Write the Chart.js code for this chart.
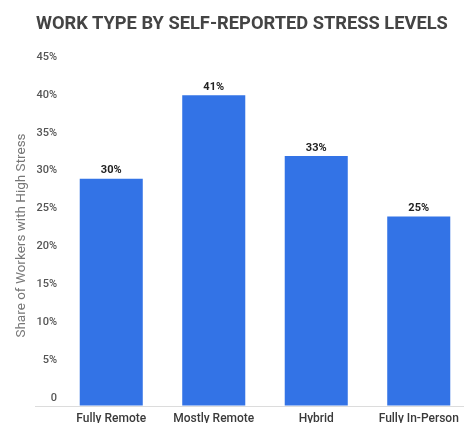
<!DOCTYPE html>
<html>

<head>
    <meta charset="utf-8">
    <title>Work type by stress</title>
    <script src="https://cdn.jsdelivr.net/npm/chart.js@4.4.0/dist/chart.umd.min.js"></script>
    <style>
        body {
            margin: 0;
            overflow: hidden;
            background: #fff;
        }

        #wrap {
            position: relative;
            width: 464px;
            height: 423px;
            overflow: hidden;
        }

        #title {
            position: absolute;
            left: 36px;
            top: 12px;
            font-family: Roboto, sans-serif;
            font-weight: 700;
            font-size: 18.3px;
            line-height: 22px;
            color: #444;
            white-space: nowrap;
            z-index: 2;
        }

        .chart-container {
            position: absolute;
            left: 0;
            top: 0;
            width: 470px;
            height: 423px;
        }
    </style>
</head>

<body>
    <div id="wrap">
        <div id="title">WORK TYPE BY SELF-REPORTED STRESS LEVELS</div>
        <div class="chart-container">
            <canvas id="canvas"></canvas>
        </div>
    </div>
    <script>
        // work types on the x axis
        const workTypes = ['Fully Remote', 'Mostly Remote', 'Hybrid', 'Fully In-Person'];
        // share of workers reporting high stress, in percent
        const highStress = [30, 41, 33, 25];
        // y axis ticks
        const yTicks = [0, 5, 10, 15, 20, 25, 30, 35, 40, 45];

        // draws the "41%" labels over the bars
        const barLabels = {
            id: 'barLabels',
            afterDatasetsDraw(chart) {
                const ctx = chart.ctx;
                const meta = chart.getDatasetMeta(0);
                ctx.save();
                ctx.font = 'bold 11px Roboto, sans-serif';
                ctx.fillStyle = '#222';
                ctx.textAlign = 'center';
                ctx.textBaseline = 'middle';
                meta.data.forEach(function (bar, i) {
                    ctx.fillText(highStress[i] + '%', bar.x, bar.y - 8);
                });
                ctx.restore();
            }
        };

        var chart = new Chart(document.getElementById('canvas'), {
            type: 'bar',
            data: {
                labels: workTypes,
                datasets: [{
                    data: highStress,
                    backgroundColor: '#3373e6',
                    borderWidth: 0,
                    barPercentage: 0.615,
                    categoryPercentage: 1
                }]
            },
            options: {
                responsive: true,
                maintainAspectRatio: false,
                animation: false,
                layout: { padding: { top: 65, right: 0, left: 0, bottom: 0 } },
                plugins: {
                    legend: { display: false },
                    tooltip: { enabled: false }
                },
                scales: {
                    x: {
                        grid: { display: false, drawTicks: false },
                        border: { display: false },
                        ticks: {
                            color: '#3a3a3a',
                            padding: 6,
                            font: { family: 'Roboto', size: 12, weight: 500 }
                        },
                        afterFit: function (scale) { scale.height = 17; }
                    },
                    y: {
                        min: 0,
                        max: 45,
                        afterBuildTicks: function (scale) {
                            scale.ticks = yTicks.map(function (v) { return { value: v }; });
                        },
                        afterFit: function (scale) { scale.width = 60; },
                        grid: {
                            drawOnChartArea: true,
                            drawTicks: true,
                            tickLength: 25,
                            color: function (c) {
                                return c.tick && c.tick.value === 0 ? '#dcdcdc' : 'rgba(0,0,0,0)';
                            }
                        },
                        border: { display: false },
                        ticks: {
                            padding: -22,
                            labelOffset: -8,
                            color: '#555',
                            font: { family: 'Roboto', size: 11, weight: 500 },
                            callback: function (v) { return v === 0 ? '0' : v + '%'; }
                        },
                        title: {
                            display: true,
                            text: 'Share of Workers with High Stress',
                            color: '#777',
                            padding: { top: 14, bottom: 0 },
                            font: { family: 'Roboto', size: 13.5 }
                        }
                    }
                }
            },
            plugins: [barLabels]
        });
    </script>
</body>

</html>
